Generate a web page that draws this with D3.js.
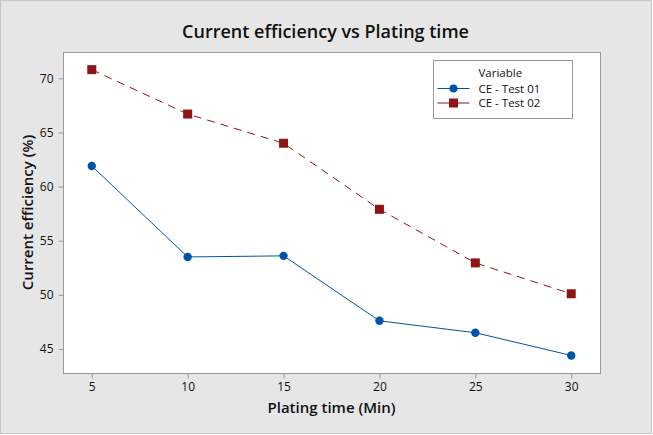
<!DOCTYPE html>
<html>
<head>
<meta charset="utf-8">
<script src="https://cdn.jsdelivr.net/npm/d3@7"></script>
<style>
    body { margin: 0; background: #fff; }
    text { font-family: "Open Sans", "Noto Sans", sans-serif; fill: #111; }
</style>
</head>
<body>
<div id="chart"></div>
<script>
    const platingTimes = [5, 10, 15, 20, 25, 30]
    const test01 = [61.9, 53.5, 53.6, 47.6, 46.5, 44.4]
    const test02 = [70.8, 66.7, 64.0, 57.9, 52.95, 50.1]
    const xTicks = [5, 10, 15, 20, 25, 30]
    const yTicks = [45, 50, 55, 60, 65, 70]
    const seriesNames = ["CE - Test 01", "CE - Test 02"]

    const width = 653, height = 435
    const margin = {top: 52, right: 53, bottom: 62, left: 63}

    const svg = d3.select("#chart").append("svg")
        .attr("width", width)
        .attr("height", height)

    svg.append("rect")
        .attr("x", 0.5).attr("y", 0.5)
        .attr("width", width - 2).attr("height", height - 2)
        .attr("fill", "#e6e6e6")
        .attr("stroke", "#c8c8c8")

    const x = d3.scaleLinear()
        .domain([3.5, 31.5])
        .range([margin.left, width - margin.right])
    const y = d3.scaleLinear()
        .domain([42.78, 72.43])
        .range([height - margin.bottom, margin.top])

    svg.append("rect")
        .attr("x", margin.left + 0.5)
        .attr("y", margin.top + 0.5)
        .attr("width", width - margin.left - margin.right)
        .attr("height", height - margin.top - margin.bottom)
        .attr("fill", "#fff")
        .attr("stroke", "#999")

    const xAxis = svg.append("g")
        .attr("transform", "translate(0," + (height - margin.bottom + 0.5) + ")")
        .call(d3.axisBottom(x).tickValues(xTicks).tickSize(5).tickPadding(4))
    const yAxis = svg.append("g")
        .attr("transform", "translate(" + (margin.left + 0.5) + ",0)")
        .call(d3.axisLeft(y).tickValues(yTicks).tickSize(5).tickPadding(5))
    ;[xAxis, yAxis].forEach(a => {
        a.select(".domain").remove()
        a.selectAll(".tick line").attr("stroke", "#999")
        a.selectAll(".tick text").attr("font-size", 12).style("fill", "#111")
    })

    svg.append("text")
        .attr("x", width / 2 - 1).attr("y", 38)
        .attr("text-anchor", "middle")
        .attr("font-size", 18).attr("font-weight", 600)
        .text("Current efficiency vs Plating time")
    svg.append("text")
        .attr("x", (margin.left + width - margin.right) / 2).attr("y", 413)
        .attr("text-anchor", "middle")
        .attr("font-size", 15).attr("font-weight", 600)
        .text("Plating time (Min)")
    svg.append("text")
        .attr("transform", "translate(33," + ((margin.top + height - margin.bottom) / 2) + ") rotate(-90)")
        .attr("text-anchor", "middle")
        .attr("font-size", 15).attr("font-weight", 600)
        .text("Current efficiency (%)")

    const blue = "#0054a6", red = "#8e1515"
    const line = d3.line()
        .x((d, i) => x(platingTimes[i]))
        .y(d => y(d))

    svg.append("path")
        .datum(test02)
        .attr("fill", "none")
        .attr("stroke", red)
        .attr("stroke-width", 1)
        .attr("stroke-dasharray", "8,6")
        .attr("d", line)
    svg.append("path")
        .datum(test01)
        .attr("fill", "none")
        .attr("stroke", blue)
        .attr("stroke-width", 1)
        .attr("d", line)

    svg.selectAll(".dot01")
        .data(test01)
        .enter().append("circle")
        .attr("cx", (d, i) => x(platingTimes[i]))
        .attr("cy", d => y(d))
        .attr("r", 4.2)
        .attr("fill", blue)
    svg.selectAll(".sq02")
        .data(test02)
        .enter().append("rect")
        .attr("x", (d, i) => x(platingTimes[i]) - 4.5)
        .attr("y", d => y(d) - 4.5)
        .attr("width", 9).attr("height", 9)
        .attr("fill", red)

    // legend
    const legend = svg.append("g").attr("transform", "translate(433.5,60.5)")
    legend.append("rect")
        .attr("width", 139).attr("height", 58)
        .attr("fill", "#fff").attr("stroke", "#999")
    legend.append("text")
        .attr("x", 45).attr("y", 16)
        .attr("font-size", 11.5)
        .text("Variable")
    seriesNames.forEach((name, i) => {
        const ly = 28 + i * 14.5
        const col = i === 0 ? blue : red
        legend.append("line")
            .attr("x1", 4).attr("x2", 36)
            .attr("y1", ly).attr("y2", ly)
            .attr("stroke", col)
        if (i === 0) {
            legend.append("circle").attr("cx", 20).attr("cy", ly).attr("r", 4).attr("fill", col)
        } else {
            legend.append("rect").attr("x", 15.5).attr("y", ly - 4.5)
                .attr("width", 9).attr("height", 9).attr("fill", col)
        }
        legend.append("text")
            .attr("x", 45).attr("y", ly + 4)
            .attr("font-size", 11.5)
            .text(name)
    })
</script>
</body>
</html>
